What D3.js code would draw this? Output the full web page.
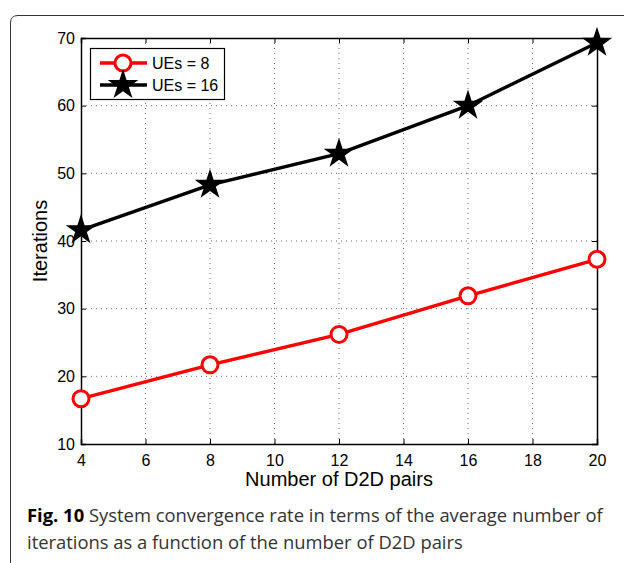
<!DOCTYPE html>
<html><head><meta charset="utf-8">
<script src="https://cdn.jsdelivr.net/npm/d3@7/dist/d3.min.js"></script>
<style>body{margin:0;background:#fff}svg{display:block}</style>
</head><body>
<script>
const xValues = [4, 8, 12, 16, 20];
const ues8 = [16.7, 21.7, 26.2, 31.9, 37.3];
const ues16 = [41.6, 48.3, 52.9, 60.0, 69.3];
const xTicks = [4, 6, 8, 10, 12, 14, 16, 18, 20];
const yTicks = [10, 20, 30, 40, 50, 60, 70];
const seriesNames = ["UEs = 8", "UEs = 16"];

const W = 624, H = 563;
const svg = d3.select("body").append("svg").attr("width", W).attr("height", H);

// outer frame
svg.append("path")
  .attr("d", "M10.5,563 L10.5,23 Q10.5,15.5 18,15.5 L624,15.5")
  .attr("fill", "none").attr("stroke", "#333").attr("stroke-width", 1);

const L = 81, R = 597, T = 38, B = 444;
const x = d3.scaleLinear().domain([4, 20]).range([L, R]);
const y = d3.scaleLinear().domain([10, 70]).range([B, T]);

const g = svg.append("g");
// grid
g.selectAll(".gx").data(xTicks.slice(1, -1)).join("line")
  .attr("x1", d => x(d)).attr("x2", d => x(d)).attr("y1", T).attr("y2", B)
  .attr("stroke", "#444").attr("stroke-width", 0.8).attr("stroke-dasharray", "1,4");
g.selectAll(".gy").data(yTicks.slice(1, -1)).join("line")
  .attr("y1", d => y(d)).attr("y2", d => y(d)).attr("x1", L).attr("x2", R)
  .attr("stroke", "#444").attr("stroke-width", 0.8).attr("stroke-dasharray", "1,4");

const font = "'Liberation Sans', Arial, sans-serif";
// axes
const xAxis = d3.axisBottom(x).tickValues(xTicks).tickSize(-5).tickPadding(11).tickFormat(d3.format("d"));
const yAxis = d3.axisLeft(y).tickValues(yTicks).tickSize(-5).tickPadding(6).tickFormat(d3.format("d"));
const gx = svg.append("g").attr("transform", `translate(0,${B})`).call(xAxis);
const gy = svg.append("g").attr("transform", `translate(${L},0)`).call(yAxis);
const gxt = svg.append("g").attr("transform", `translate(0,${T})`).call(d3.axisTop(x).tickValues(xTicks).tickSize(-5).tickFormat(""));
const gyr = svg.append("g").attr("transform", `translate(${R},0)`).call(d3.axisRight(y).tickValues(yTicks).tickSize(-5).tickFormat(""));
[gx, gy, gxt, gyr].forEach(a => {
  a.attr("font-size", null).attr("font-family", null);
  a.select(".domain").attr("stroke", "#000").attr("stroke-width", 1.5);
  a.selectAll(".tick line").attr("stroke", "#000").attr("stroke-width", 1);
  a.selectAll(".tick text").style("font-family", font).style("font-size", "16px").attr("fill", "#000");
});

// lines
const line = d3.line().x((d, i) => x(xValues[i])).y(d => y(d));
svg.append("path").datum(ues8).attr("d", line).attr("fill", "none").attr("stroke", "#f00").attr("stroke-width", 3.4);
svg.append("path").datum(ues16).attr("d", line).attr("fill", "none").attr("stroke", "#000").attr("stroke-width", 3.4);

const star = d3.symbol().type(d3.symbolStar).size(290);
svg.selectAll(".c8").data(ues8).join("circle")
  .attr("cx", (d, i) => x(xValues[i])).attr("cy", d => y(d)).attr("r", 8)
  .attr("fill", "#fff").attr("stroke", "#f00").attr("stroke-width", 3);
svg.selectAll(".s16").data(ues16).join("path")
  .attr("transform", (d, i) => `translate(${x(xValues[i])},${y(d)})`)
  .attr("d", star).attr("fill", "#000");

// legend
const lg = svg.append("g");
lg.append("rect").attr("x", 90.5).attr("y", 48.5).attr("width", 134).attr("height", 51)
  .attr("fill", "#fff").attr("stroke", "#000").attr("stroke-width", 1.2);
[0, 1].forEach(i => {
  const yy = 63 + i * 22;
  lg.append("line").attr("x1", 100).attr("x2", 147).attr("y1", yy).attr("y2", yy)
    .attr("stroke", i ? "#000" : "#f00").attr("stroke-width", 3.4);
  if (i === 0) lg.append("circle").attr("cx", 123).attr("cy", yy).attr("r", 8)
    .attr("fill", "#fff").attr("stroke", "#f00").attr("stroke-width", 3);
  else lg.append("path").attr("transform", `translate(123,${yy})`).attr("d", star).attr("fill", "#000");
  lg.append("text").attr("x", 152).attr("y", yy).attr("dy", "0.36em")
    .style("font-family", font).style("font-size", "16px").text(seriesNames[i]);
});

// axis titles
svg.append("text").attr("x", (L + R) / 2).attr("y", 486).attr("text-anchor", "middle")
  .style("font-family", font).style("font-size", "20px").text("Number of D2D pairs");
svg.append("text").attr("transform", `translate(47,${(T + B) / 2}) rotate(-90)`).attr("text-anchor", "middle")
  .style("font-family", font).style("font-size", "20px").text("Iterations");

// caption
const capFont = "'Open Sans', Lato, sans-serif";
const cap = svg.append("text").attr("x", 27).attr("y", 522).style("font-family", capFont).style("font-size", "18.4px").attr("fill", "#333");
cap.append("tspan").attr("font-weight", "bold").attr("fill", "#000").text("Fig. 10");
cap.append("tspan").text(" System convergence rate in terms of the average number of");
svg.append("text").attr("x", 27).attr("y", 549).style("font-family", capFont).style("font-size", "18.4px").attr("fill", "#333")
  .text("iterations as a function of the number of D2D pairs");
</script>
</body></html>
